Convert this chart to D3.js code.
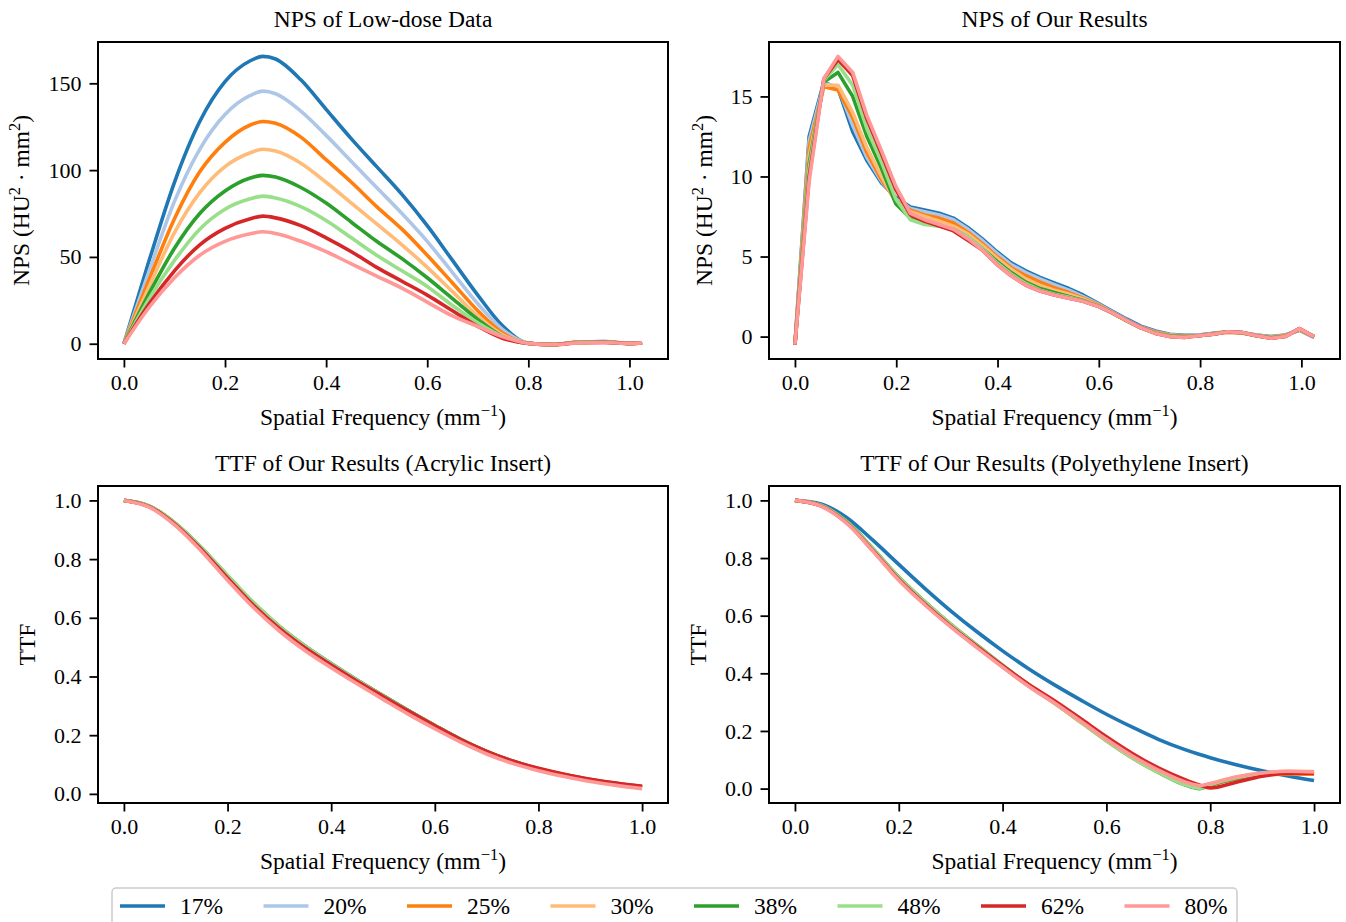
<!DOCTYPE html>
<html>
<head>
<meta charset="utf-8">
<script src="https://cdn.jsdelivr.net/npm/d3@7"></script>
<style>
  body { margin: 0; background: #fff; }
  text { font-family: "Liberation Serif", "DejaVu Serif", serif; fill: #000; }
</style>
</head>
<body>
<script>
// doses, one line per dose in every panel
var labels = ["17%", "20%", "25%", "30%", "38%", "48%", "62%", "80%"];
var colors = ["#1f77b4", "#aec7e8", "#ff7f0e", "#ffbb78", "#2ca02c", "#98df8a", "#d62728", "#ff9896"];

// #region NPS of low-dose data
var xsLow = [0, 0.05, 0.1, 0.15, 0.2, 0.25, 0.275, 0.3, 0.35, 0.4, 0.45, 0.5, 0.55, 0.6, 0.65, 0.7, 0.75, 0.8, 0.85, 0.9, 0.95, 1.0, 1.025];
var npsLow = [
  [0, 48, 93, 128, 151, 163, 165.5, 164, 152, 135, 118, 102, 86, 68, 48, 28, 10, 0.3, -0.5, 1.0, 1.2, 0.2, 0.6],
  [0, 42, 82, 112, 132, 143, 145.5, 144, 134, 120, 105, 90, 75, 59, 41, 23, 8, 0.3, -0.5, 1.0, 1.2, 0.2, 0.6],
  [0, 37, 72, 99, 116, 126, 128, 127, 119, 106, 93, 79, 66, 51, 35, 19, 6, 0.3, -0.5, 1.0, 1.1, 0.2, 0.6],
  [0, 33, 64, 87, 102, 110, 112, 111, 104, 93, 81, 69, 57, 44, 30, 16, 5, 0.3, -0.5, 0.9, 1.0, 0.2, 0.5],
  [0, 29, 55, 75, 88, 95.5, 97, 96, 90, 81, 70, 59, 49, 38, 26, 14, 4, 0.2, -0.5, 0.8, 1.0, 0.2, 0.5],
  [0, 26, 48, 66, 77.5, 83.5, 85, 84, 79, 71, 61, 51, 42, 33, 22, 12, 4, 0.2, -0.5, 0.7, 0.9, 0.2, 0.5],
  [0, 23, 42, 57, 66.5, 72, 73.5, 72.5, 68, 61, 53, 44, 36, 28, 19, 10, 3, 0.2, -0.5, 0.6, 0.8, 0.2, 0.5],
  [0, 21, 38, 51, 59, 63.3, 64.5, 63.5, 59, 53, 46, 39, 32, 24, 16, 10, 4, 0.2, -0.5, 0.5, 0.7, 0.2, 0.5]
];
// #endregion

// #region NPS of our results
var xsOur = [0, 0.028, 0.057, 0.085, 0.114, 0.142, 0.171, 0.199, 0.228, 0.256, 0.285, 0.313, 0.342, 0.370, 0.399, 0.427, 0.456, 0.484, 0.512,
  0.541, 0.569, 0.598, 0.626, 0.655, 0.683, 0.712, 0.740, 0.769, 0.797, 0.826, 0.854, 0.883, 0.911, 0.940, 0.968, 0.996, 1.025];
var npsOur = [
  [-0.5, 12.5, 15.9, 15.5, 12.8, 11.0, 9.6, 8.7, 8.1, 7.9, 7.7, 7.4, 6.8, 6.1, 5.3, 4.6, 4.1, 3.7, 3.35, 3.0, 2.6, 2.1, 1.6, 1.1, 0.65, 0.35, 0.15, 0.08, 0.1, 0.2, 0.3, 0.25, 0.1, 0.0, 0.1, 0.4, -0.05],
  [-0.5, 12.2, 15.8, 15.6, 13.2, 11.2, 9.7, 8.6, 8.0, 7.8, 7.6, 7.3, 6.7, 6.0, 5.2, 4.5, 4.0, 3.6, 3.25, 2.9, 2.5, 2.05, 1.55, 1.05, 0.6, 0.3, 0.12, 0.05, 0.08, 0.18, 0.28, 0.22, 0.08, -0.02, 0.08, 0.42, -0.05],
  [-0.5, 11.8, 15.6, 15.4, 13.7, 11.5, 9.8, 8.5, 7.9, 7.6, 7.4, 7.1, 6.5, 5.8, 5.0, 4.3, 3.8, 3.4, 3.05, 2.75, 2.4, 2.0, 1.5, 1.0, 0.58, 0.28, 0.1, 0.04, 0.07, 0.17, 0.28, 0.22, 0.07, -0.04, 0.06, 0.44, -0.02],
  [-0.5, 11.3, 15.7, 15.7, 14.0, 11.8, 10.0, 8.4, 7.8, 7.5, 7.2, 6.9, 6.4, 5.7, 4.9, 4.2, 3.6, 3.2, 2.9, 2.65, 2.35, 1.95, 1.5, 1.0, 0.56, 0.25, 0.08, 0.02, 0.06, 0.16, 0.28, 0.22, 0.06, -0.06, 0.04, 0.46, 0.0],
  [-0.5, 10.8, 15.9, 16.5, 15.0, 12.5, 10.5, 8.3, 7.4, 7.1, 6.9, 6.7, 6.2, 5.5, 4.7, 4.0, 3.4, 3.0, 2.75, 2.5, 2.25, 1.92, 1.48, 1.0, 0.55, 0.22, 0.05, 0.0, 0.05, 0.15, 0.3, 0.24, 0.05, -0.08, 0.02, 0.48, 0.0],
  [-0.5, 10.5, 16.0, 17.0, 15.7, 13.0, 10.9, 8.6, 7.3, 7.0, 6.9, 6.7, 6.2, 5.5, 4.6, 3.9, 3.3, 2.9, 2.65, 2.45, 2.22, 1.9, 1.48, 1.0, 0.55, 0.2, 0.02, -0.03, 0.05, 0.15, 0.3, 0.25, 0.05, -0.1, 0.0, 0.5, 0.0],
  [-0.5, 10.0, 16.1, 17.3, 16.3, 13.6, 11.4, 9.2, 7.6, 7.2, 6.9, 6.6, 6.0, 5.4, 4.5, 3.8, 3.2, 2.85, 2.6, 2.4, 2.2, 1.9, 1.5, 1.0, 0.55, 0.2, 0.0, -0.05, 0.05, 0.15, 0.3, 0.25, 0.05, -0.1, 0.0, 0.5, 0.0],
  [-0.5, 9.7, 16.1, 17.5, 16.5, 13.8, 11.6, 9.4, 7.7, 7.3, 7.0, 6.7, 6.1, 5.4, 4.5, 3.8, 3.2, 2.85, 2.6, 2.4, 2.2, 1.9, 1.5, 1.0, 0.55, 0.2, 0.0, -0.05, 0.05, 0.15, 0.3, 0.25, 0.05, -0.1, 0.0, 0.5, 0.0]
];
// #endregion

// #region TTF acrylic
var xsAcr = [0, 0.05, 0.1, 0.15, 0.2, 0.25, 0.3, 0.35, 0.4, 0.45, 0.5, 0.55, 0.6, 0.65, 0.7, 0.75, 0.8, 0.85, 0.9, 0.95, 1.0];
var ttfAcr = [
  [1.0, 0.979, 0.92, 0.837, 0.742, 0.65, 0.57, 0.503, 0.444, 0.388, 0.335, 0.283, 0.233, 0.185, 0.144, 0.111, 0.085, 0.064, 0.047, 0.034, 0.023],
  [1.0, 0.979, 0.92, 0.836, 0.741, 0.649, 0.569, 0.502, 0.443, 0.387, 0.334, 0.282, 0.232, 0.184, 0.143, 0.11, 0.084, 0.063, 0.046, 0.033, 0.022],
  [1.0, 0.979, 0.919, 0.835, 0.74, 0.648, 0.568, 0.501, 0.442, 0.387, 0.334, 0.282, 0.233, 0.185, 0.144, 0.111, 0.085, 0.064, 0.047, 0.034, 0.023],
  [1.0, 0.979, 0.92, 0.836, 0.741, 0.648, 0.568, 0.501, 0.442, 0.386, 0.333, 0.281, 0.232, 0.184, 0.143, 0.11, 0.084, 0.063, 0.046, 0.033, 0.022],
  [1.0, 0.98, 0.921, 0.838, 0.743, 0.651, 0.571, 0.503, 0.443, 0.387, 0.334, 0.282, 0.233, 0.186, 0.145, 0.112, 0.086, 0.066, 0.049, 0.036, 0.025],
  [1.0, 0.98, 0.922, 0.839, 0.744, 0.652, 0.571, 0.503, 0.443, 0.387, 0.333, 0.281, 0.232, 0.184, 0.143, 0.11, 0.084, 0.063, 0.046, 0.033, 0.022],
  [1.0, 0.978, 0.917, 0.832, 0.736, 0.643, 0.564, 0.497, 0.439, 0.384, 0.332, 0.281, 0.232, 0.185, 0.145, 0.112, 0.087, 0.067, 0.05, 0.037, 0.026],
  [1.0, 0.976, 0.913, 0.826, 0.728, 0.635, 0.555, 0.488, 0.43, 0.375, 0.322, 0.27, 0.222, 0.176, 0.136, 0.104, 0.079, 0.059, 0.042, 0.029, 0.018]
];
// #endregion

// #region TTF polyethylene
var xsPoly = [0, 0.05, 0.1, 0.15, 0.2, 0.25, 0.3, 0.35, 0.4, 0.45, 0.5, 0.55, 0.6, 0.65, 0.7, 0.75, 0.78, 0.8, 0.85, 0.9, 0.95, 1.0];
var ttfPoly = [
  [1.0, 0.988, 0.94, 0.862, 0.778, 0.695, 0.617, 0.545, 0.478, 0.416, 0.36, 0.308, 0.258, 0.213, 0.171, 0.136, 0.118, 0.107, 0.083, 0.062, 0.044, 0.028],
  [1.0, 0.982, 0.924, 0.829, 0.729, 0.644, 0.566, 0.494, 0.424, 0.356, 0.296, 0.231, 0.166, 0.106, 0.056, 0.015, 0.001, 0.013, 0.035, 0.048, 0.054, 0.054],
  [1.0, 0.982, 0.925, 0.83, 0.73, 0.645, 0.567, 0.495, 0.425, 0.357, 0.297, 0.232, 0.167, 0.107, 0.057, 0.016, 0.002, 0.012, 0.033, 0.046, 0.051, 0.05],
  [1.0, 0.982, 0.925, 0.83, 0.73, 0.645, 0.567, 0.495, 0.425, 0.356, 0.296, 0.231, 0.166, 0.106, 0.056, 0.016, 0.004, 0.016, 0.04, 0.054, 0.06, 0.059],
  [1.0, 0.983, 0.927, 0.833, 0.734, 0.649, 0.571, 0.499, 0.428, 0.36, 0.299, 0.234, 0.168, 0.108, 0.057, 0.014, 0.0, 0.012, 0.036, 0.05, 0.056, 0.055],
  [1.0, 0.983, 0.926, 0.832, 0.733, 0.648, 0.57, 0.498, 0.427, 0.359, 0.298, 0.233, 0.167, 0.107, 0.056, 0.014, 0.001, 0.014, 0.038, 0.052, 0.058, 0.057],
  [1.0, 0.981, 0.922, 0.826, 0.726, 0.641, 0.564, 0.494, 0.426, 0.362, 0.305, 0.243, 0.18, 0.122, 0.072, 0.032, 0.012, 0.002, 0.022, 0.043, 0.053, 0.053],
  [1.0, 0.98, 0.92, 0.824, 0.723, 0.638, 0.561, 0.49, 0.421, 0.355, 0.297, 0.235, 0.171, 0.113, 0.064, 0.024, 0.01, 0.018, 0.04, 0.054, 0.06, 0.058]
];
// #endregion

var freqTicks = [0, 0.2, 0.4, 0.6, 0.8, 1.0];
var npsLowTicks = [0, 50, 100, 150];
var npsOurTicks = [0, 5, 10, 15];
var ttfTicks = [0, 0.2, 0.4, 0.6, 0.8, 1.0];

var FS = 23.5;   // titles, labels, legend
var TS = 22;     // tick labels

var svg = d3.select("body").append("svg")
    .attr("width", 1346)
    .attr("height", 922);

// matplotlib style 5% margins
function padded(values) {
  var ext = d3.extent(values);
  var m = (ext[1] - ext[0]) * 0.05;
  return [ext[0] - m, ext[1] + m];
}

// text made of parts, [string, isSuperscript]
function richText(sel, parts) {
  var up = false;
  parts.forEach(function(p) {
    var t = sel.append("tspan").text(p[0]);
    if (p[1] && !up) { t.attr("dy", -9).style("font-size", (FS * 0.7) + "px"); up = true; }
    else if (!p[1] && up) { t.attr("dy", 9); up = false; }
  });
}

var freqLabel = [["Spatial Frequency (mm"], ["\u22121", true], [")"]];
var npsLabel = [["NPS (HU"], ["2", true], [" \u00b7 mm"], ["2", true], [")"]];

function drawPanel(p) {
  var g = svg.append("g")
      .attr("transform", "translate(" + p.left + "," + p.top + ")");

  var x = d3.scaleLinear().domain(padded(p.xs)).range([0, p.w]);
  var y = d3.scaleLinear().domain(padded(d3.merge(p.series))).range([p.h, 0]);

  var line = d3.line()
      .x(function(d, i) { return x(p.xs[i]); })
      .y(function(d) { return y(d); })
      .curve(p.curve);

  g.selectAll(".series")
      .data(p.series)
    .enter().append("path")
      .attr("class", "series")
      .attr("fill", "none")
      .attr("stroke", function(d, i) { return colors[i]; })
      .attr("stroke-width", 3.6)
      .attr("stroke-linejoin", "round")
      .attr("d", line);

  var xAxis = d3.axisBottom(x).tickValues(freqTicks).tickFormat(d3.format(".1f"))
      .tickSize(8.5).tickPadding(7).tickSizeOuter(0);
  var yAxis = d3.axisLeft(y).tickValues(p.yticks).tickFormat(d3.format(p.yfmt))
      .tickSize(8.5).tickPadding(8).tickSizeOuter(0);

  var gx = g.append("g").attr("transform", "translate(0," + p.h + ")").call(xAxis);
  var gy = g.append("g").call(yAxis);
  [gx, gy].forEach(function(a) {
    a.select(".domain").remove();
    a.selectAll("line").attr("stroke", "#000").attr("stroke-width", 1.8);
    a.selectAll("text").style("font-size", TS + "px").attr("fill", "#000")
      .style("font-family", "'Liberation Serif', serif");
  });

  g.append("rect")
      .attr("width", p.w)
      .attr("height", p.h)
      .attr("fill", "none")
      .attr("stroke", "#000")
      .attr("stroke-width", 2);

  g.append("text")
      .attr("x", p.w / 2)
      .attr("y", -15)
      .attr("text-anchor", "middle")
      .style("font-size", FS + "px")
      .text(p.title);

  var xl = g.append("text")
      .attr("x", p.w / 2)
      .attr("y", p.h + 66)
      .attr("text-anchor", "middle")
      .style("font-size", FS + "px");
  richText(xl, freqLabel);

  var yl = g.append("text")
      .attr("transform", "translate(" + p.ylabelX + "," + (p.h / 2) + ") rotate(-90)")
      .attr("text-anchor", "middle")
      .style("font-size", FS + "px");
  richText(yl, p.ylabel);
}

drawPanel({left: 98, top: 42, w: 570, h: 317, xs: xsLow, series: npsLow, curve: d3.curveMonotoneX,
  yticks: npsLowTicks, yfmt: "d", title: "NPS of Low-dose Data", ylabel: npsLabel, ylabelX: -69});
drawPanel({left: 769, top: 42, w: 571, h: 317, xs: xsOur, series: npsOur, curve: d3.curveLinear,
  yticks: npsOurTicks, yfmt: "d", title: "NPS of Our Results", ylabel: npsLabel, ylabelX: -57});
drawPanel({left: 98, top: 486, w: 570, h: 317, xs: xsAcr, series: ttfAcr, curve: d3.curveMonotoneX,
  yticks: ttfTicks, yfmt: ".1f", title: "TTF of Our Results (Acrylic Insert)", ylabel: [["TTF"]], ylabelX: -63});
drawPanel({left: 769, top: 486, w: 571, h: 317, xs: xsPoly, series: ttfPoly, curve: d3.curveMonotoneX,
  yticks: ttfTicks, yfmt: ".1f", title: "TTF of Our Results (Polyethylene Insert)", ylabel: [["TTF"]], ylabelX: -63});

// legend along the bottom
var legend = svg.append("g").attr("transform", "translate(112,888)");
legend.append("rect")
    .attr("width", 1125)
    .attr("height", 52)
    .attr("rx", 4)
    .attr("fill", "#fff")
    .attr("stroke", "#cccccc")
    .attr("stroke-width", 1.5);

var item = legend.selectAll(".item")
    .data(labels)
  .enter().append("g")
    .attr("class", "item")
    .attr("transform", function(d, i) { return "translate(" + (8 + i * 143.5) + ",18)"; });

item.append("line")
    .attr("x1", 0).attr("x2", 45)
    .attr("stroke", function(d, i) { return colors[i]; })
    .attr("stroke-width", 3.6);

item.append("text")
    .attr("x", 60)
    .attr("y", 8)
    .style("font-size", FS + "px")
    .text(function(d) { return d; });
</script>
</body>
</html>
